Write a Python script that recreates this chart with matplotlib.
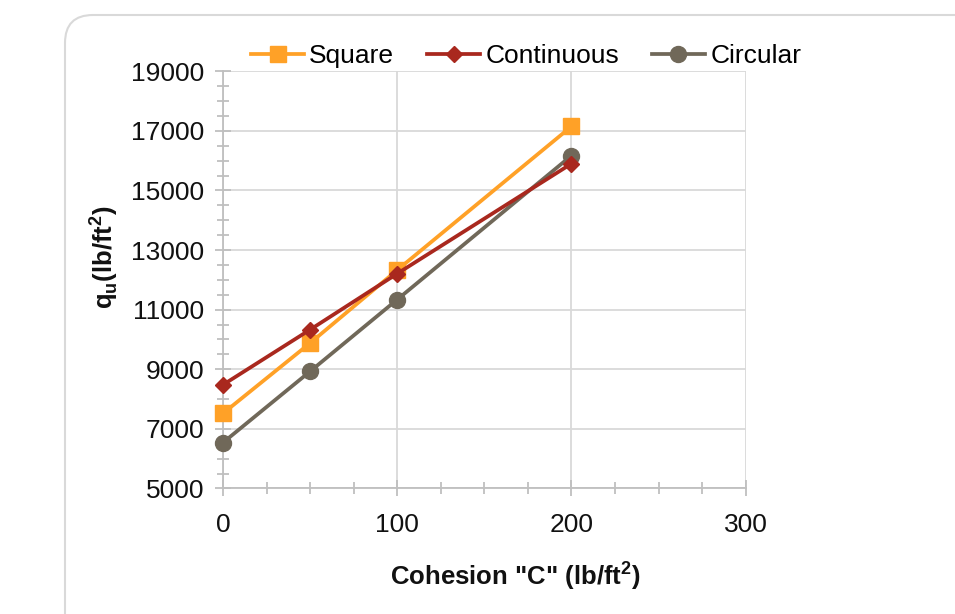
import matplotlib
matplotlib.use("Agg")
import matplotlib.pyplot as plt
from matplotlib.patches import FancyBboxPatch
from matplotlib.ticker import MultipleLocator

# cohesion values and ultimate bearing capacity for each footing shape
cohesion = [0, 50, 100, 200]
q_square = [7520, 9880, 12330, 17150]
q_continuous = [8480, 10330, 12210, 15900]
q_circular = [6540, 8930, 11340, 16170]
y_ticks = [5000, 7000, 9000, 11000, 13000, 15000, 17000, 19000]

plt.rcParams['font.family'] = ['Liberation Sans', 'DejaVu Sans']
plt.rcParams['mathtext.fontset'] = 'custom'
plt.rcParams['mathtext.rm'] = 'Liberation Sans'
plt.rcParams['mathtext.bf'] = 'Liberation Sans:bold'

fig = plt.figure(figsize=(9.55, 6.14), dpi=100)
ax = fig.add_axes([0.2335, 0.2044, 0.5473, 0.6795])

# chart area outline with rounded corner
box = FancyBboxPatch((0.65, -1.0), 12.0, 6.99, boxstyle="round,pad=0,rounding_size=0.28",
                     transform=fig.dpi_scale_trans, facecolor='none',
                     edgecolor='#d9d9d9', linewidth=1.5, clip_on=False, zorder=0)
fig.add_artist(box)

ax.plot(cohesion, q_square, color='#FFA127', lw=2.7, marker='s', ms=11,
        label='Square', zorder=3, clip_on=False)
ax.plot(cohesion, q_continuous, color='#A9281E', lw=2.7, marker='D', ms=8.5,
        label='Continuous', zorder=4, clip_on=False)
ax.plot(cohesion, q_circular, color='#706859', lw=2.7, marker='o', ms=11.5,
        label='Circular', zorder=3, clip_on=False)

ax.set_xlim(0, 300)
ax.set_ylim(5000, 19000)
ax.xaxis.set_major_locator(MultipleLocator(100))
ax.xaxis.set_minor_locator(MultipleLocator(25))
ax.set_yticks(y_ticks)
ax.yaxis.set_minor_locator(MultipleLocator(500))

ax.grid(True, which='major', color='#d9d9d9', lw=1.3)
ax.set_axisbelow(True)
for side in ['top', 'right']:
    ax.spines[side].set_visible(False)
for side in ['left', 'bottom']:
    ax.spines[side].set_color('#bfbfbf')
    ax.spines[side].set_linewidth(1.3)

ax.tick_params(which='both', direction='inout', color='#bfbfbf', width=1.3,
               labelsize=19, labelcolor='#111111')
ax.tick_params(which='major', length=11)
ax.tick_params(which='minor', length=9)
ax.tick_params(axis='y', pad=8)
ax.tick_params(axis='x', pad=12)

fig.legend(loc='center', bbox_to_anchor=(0.551, 0.908), ncol=3, frameon=False,
           fontsize=19, handlelength=2.0, handletextpad=0.2, columnspacing=1.25)

fig.text(0.540, 0.063, 'Cohesion "C" (lb/ft$^\\mathbf{2}$)', fontsize=18.5, fontweight='bold',
         ha='center', va='center', color='#111111')
fig.text(0.108, 0.581, 'q$_\\mathbf{u}$(lb/ft$^\\mathbf{2}$)', fontsize=18.5, fontweight='bold',
         rotation=90, ha='center', va='center', color='#111111')

fig.savefig('out.png', dpi=100)
